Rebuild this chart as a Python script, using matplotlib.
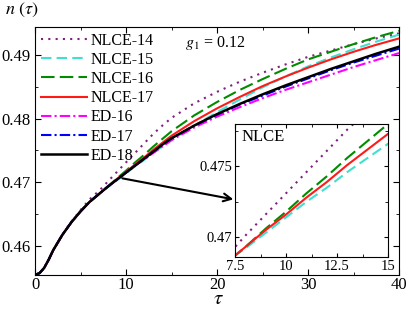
import numpy as np
import matplotlib
matplotlib.use("Agg")
import matplotlib.pyplot as plt
from matplotlib.ticker import MultipleLocator, FormatStrFormatter

plt.rcParams['font.family'] = ['Liberation Serif', 'DejaVu Serif']
plt.rcParams['mathtext.fontset'] = 'stix'

# time grid and series
tau = [0, 0.5, 1, 1.5, 2, 3, 4, 5, 6, 7, 7.5, 8, 9, 10, 11, 12, 13, 14, 15,
       17.5, 20, 22.5, 25, 27.5, 30, 32.5, 35, 37.5, 40]

nlce14 = [0.4554, 0.4557, 0.4565, 0.4578, 0.4593, 0.4617, 0.4638, 0.4656, 0.4673, 0.4686,
          0.4693, 0.4701, 0.4716, 0.4731, 0.4746, 0.4761, 0.4776, 0.4789, 0.4801,
          0.4824, 0.4842, 0.4858, 0.4872, 0.4885, 0.4897, 0.4907, 0.4917, 0.4926, 0.4934]
nlce15 = [0.4554, 0.4557, 0.4565, 0.4578, 0.4593, 0.4617, 0.4637, 0.4654, 0.4669, 0.4681,
          0.4687, 0.4692, 0.4703, 0.4714, 0.4725, 0.4735, 0.4746, 0.4756, 0.4766,
          0.4789, 0.4810, 0.4830, 0.4849, 0.4866, 0.4882, 0.4896, 0.4909, 0.4921, 0.4932]
nlce16 = [0.4554, 0.4557, 0.4565, 0.4578, 0.4593, 0.4617, 0.4637, 0.4654, 0.4669, 0.4681,
          0.4687, 0.4693, 0.4706, 0.4718, 0.4731, 0.4743, 0.4756, 0.4768, 0.4780,
          0.4805, 0.4826, 0.4845, 0.4862, 0.4878, 0.4893, 0.4905, 0.4917, 0.4928, 0.4938]
nlce17 = [0.4554, 0.4557, 0.4565, 0.4578, 0.4593, 0.4617, 0.4637, 0.4654, 0.4669, 0.4681,
          0.4687, 0.4693, 0.4705, 0.4716, 0.4728, 0.4739, 0.4751, 0.4762, 0.4773,
          0.4796, 0.4816, 0.4834, 0.4851, 0.4866, 0.4880, 0.4893, 0.4905, 0.4916, 0.4926]
ed16 = [0.4554, 0.4557, 0.4565, 0.4578, 0.4593, 0.4617, 0.4637, 0.4654, 0.4669, 0.4681,
        0.4687, 0.4693, 0.4704, 0.4715, 0.4726, 0.4736, 0.4746, 0.4756, 0.4766,
        0.4786, 0.4803, 0.4818, 0.4832, 0.4845, 0.4857, 0.4869, 0.4881, 0.4892, 0.4903]
ed17 = [0.4554, 0.4557, 0.4565, 0.4578, 0.4593, 0.4617, 0.4637, 0.4654, 0.4669, 0.4681,
        0.4687, 0.4693, 0.4704, 0.4715, 0.4726, 0.4737, 0.4748, 0.4759, 0.4769,
        0.4789, 0.4806, 0.4822, 0.4836, 0.4850, 0.4863, 0.4876, 0.4888, 0.4899, 0.4910]
ed18 = [0.4554, 0.4557, 0.4565, 0.4578, 0.4593, 0.4617, 0.4637, 0.4654, 0.4669, 0.4681,
        0.4687, 0.4693, 0.4704, 0.4715, 0.4726, 0.4737, 0.4748, 0.4759, 0.4769,
        0.4789, 0.4807, 0.4823, 0.4838, 0.4852, 0.4865, 0.4878, 0.4890, 0.4902, 0.4913]

styles = [
    ("NLCE-14", nlce14, "#7f1f7f", (0, (1, 2.5)), 1.5),
    ("NLCE-15", nlce15, "#40e0d0", (0, (5, 2.5)), 1.5),
    ("NLCE-16", nlce16, "#008c00", (0, (6.5, 2.5)), 1.5),
    ("NLCE-17", nlce17, "#ff1a1a", "-", 1.5),
    ("ED-16", ed16, "#ff00ff", (0, (5, 1.5, 1, 1.5)), 1.5),
    ("ED-17", ed17, "#0000ff", (0, (5, 1.5, 1, 1.5)), 1.5),
    ("ED-18", ed18, "black", "-", 1.8),
]

fig = plt.figure(figsize=(4.09, 3.09), dpi=100)
ax = fig.add_axes([35/409, 34/309, 364/409, 248/309])

for name, y, c, ls, lw in styles:
    ax.plot(tau, y, color=c, ls=ls, lw=lw, label=name)

ax.set_xlim(0, 40)
ax.set_ylim(0.4554, 0.4944)
ax.xaxis.set_major_locator(MultipleLocator(10))
ax.xaxis.set_minor_locator(MultipleLocator(5))
ax.yaxis.set_major_locator(MultipleLocator(0.01))
ax.yaxis.set_minor_locator(MultipleLocator(0.005))
ax.tick_params(which='both', direction='in', top=True, right=True, labelsize=12)
ax.tick_params(axis='x', pad=1.5)
ax.tick_params(which='major', length=4)
ax.tick_params(which='minor', length=2.5)
ax.yaxis.set_major_formatter(FormatStrFormatter('%g'))

leg = ax.legend(loc='upper left', frameon=False, fontsize=11.5, handlelength=2.9,
                handletextpad=0.25, labelspacing=0.2, borderaxespad=0.05,
                borderpad=0.3)

ax.text(16.5, 0.4913, r'$g_1$ = 0.12', fontsize=11.5)
fig.text(0.012, 0.955, r'$n\ (\tau)$', fontsize=13)
# x label placed by hand, the figure is tight at the bottom
fig.text(218/409, 0.0, r'$\tau$', fontsize=15, ha='center', va='bottom')

ax.annotate('', xy=(21.8, 0.4673), xytext=(9.6, 0.4706),
            arrowprops=dict(arrowstyle='->', lw=1.5, color='black',
                            shrinkA=0, shrinkB=0, mutation_scale=14))

# inset
ins = fig.add_axes([235/409, 52/309, 153/409, 133/309])
for name, y, c, ls, lw in styles[:4]:
    ins.plot(tau, y, color=c, ls=ls, lw=lw)
ins.set_xlim(7.5, 15)
ins.set_ylim(0.4686, 0.4780)
ins.xaxis.set_major_locator(MultipleLocator(2.5))
ins.xaxis.set_minor_locator(MultipleLocator(1.25))
ins.yaxis.set_major_locator(MultipleLocator(0.005))
ins.yaxis.set_minor_locator(MultipleLocator(0.0025))
ins.xaxis.set_major_formatter(FormatStrFormatter('%g'))
ins.yaxis.set_major_formatter(FormatStrFormatter('%g'))
ins.tick_params(which='both', direction='in', top=True, right=True, labelsize=10.5, pad=2)
ins.tick_params(which='major', length=3)
ins.tick_params(which='minor', length=2)
ins.text(0.04, 0.96, 'NLCE', transform=ins.transAxes, fontsize=12, va='top')

fig.savefig('out.png', dpi=100)
